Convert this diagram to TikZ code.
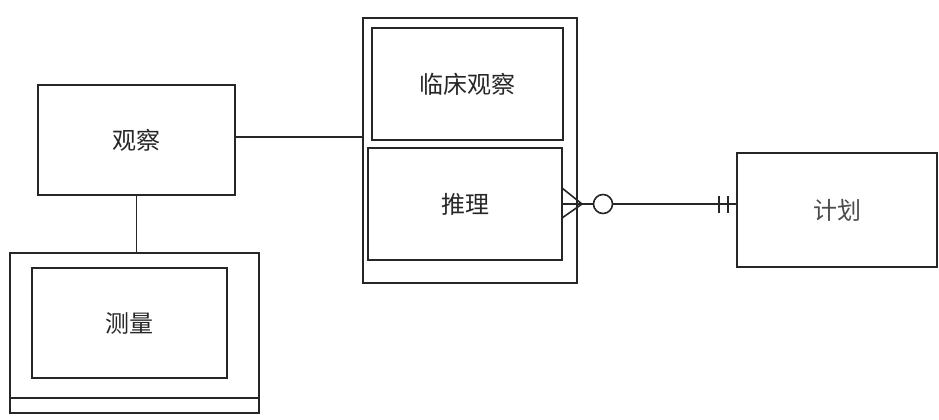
\documentclass[tikz,border=0pt]{standalone}
\usepackage{fontspec}
\newfontfamily\cjk{Noto Sans CJK SC}
\begin{document}
\begin{tikzpicture}[x=1pt,y=-1pt,
  box/.style={draw=black!85,line width=2pt,rectangle,inner sep=0pt},
  lbl/.style={font=\cjk\fontsize{24}{26}\selectfont,text=black!85},
  conn/.style={draw=black!85,line width=1.6pt}]
\useasboundingbox (0,0) rectangle (939,420);
% left group
\node[box,minimum width=197,minimum height=110,lbl] (obs) at (136.5,140) {观察};
\node[box,minimum width=249,minimum height=160] (measout) at (134.5,333) {};
\node[box,minimum width=195,minimum height=110,lbl] (meas) at (129.5,323) {测量};
\coordinate (sl) at (10,398);
\coordinate (sr) at (259,398);
\draw[conn] (sl) -- (sr);
% middle group
\node[box,minimum width=214,minimum height=265] (outer) at (470,150.5) {};
\node[box,minimum width=191,minimum height=112,lbl] (clin) at (467.5,84) {临床观察};
\node[box,minimum width=194,minimum height=112,lbl] (reas) at (465,204) {推理};
% right
\node[box,minimum width=200,minimum height=114,lbl,text=black!70] (plan) at (837,210) {计划};
% connectors
\draw[conn] ([yshift=3]obs.east) -- ([yshift=3]outer.west |- obs.east);
\draw[conn] (obs.south) -- (obs.south |- measout.north);
\coordinate (cfa) at (562,188);
\coordinate (cfb) at (562,218);
\coordinate (cft) at (582,204);
\node[draw=black!85,line width=1.6pt,circle,minimum size=19,inner sep=0pt] (circ) at (603,204) {};
\draw[conn] (cfa) -- (cft) -- (cfb);
\draw[conn] (reas.east |- cft) -- (circ.west);
\draw[conn] (circ.east) -- (plan.west |- circ.east);
\coordinate (b1t) at (719,196);
\coordinate (b1b) at (719,213);
\coordinate (b2t) at (728,196);
\coordinate (b2b) at (728,213);
\draw[conn] (b1t) -- (b1b);
\draw[conn] (b2t) -- (b2b);
\end{tikzpicture}
\end{document}
